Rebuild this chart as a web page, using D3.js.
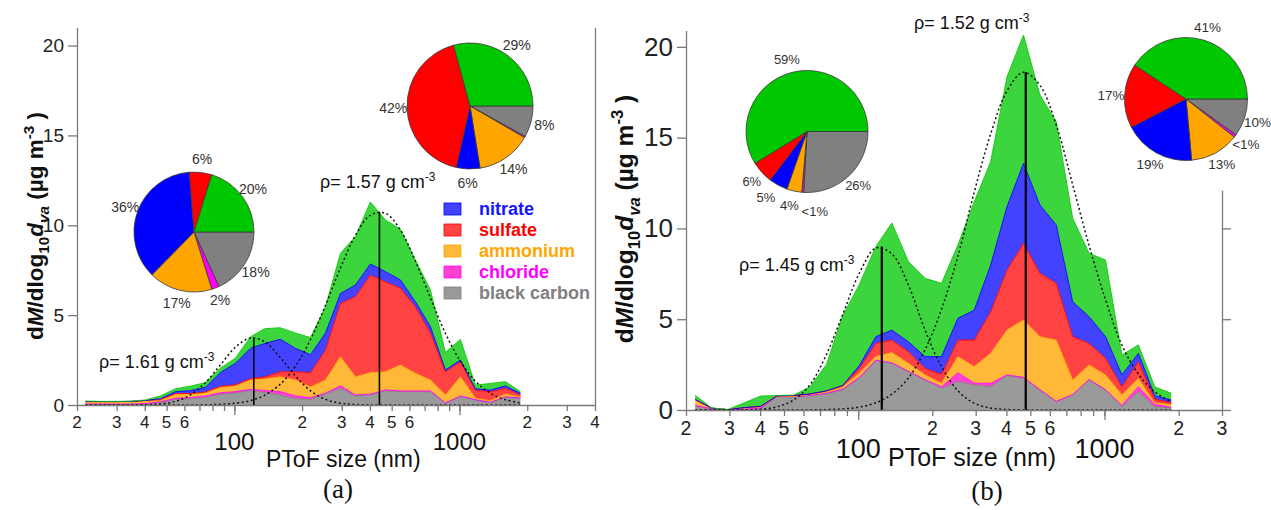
<!DOCTYPE html>
<html><head><meta charset="utf-8">
<script src="https://cdn.jsdelivr.net/npm/d3@7"></script>
<style>
body{margin:0;background:#fff;}
svg{display:block;font-family:"Liberation Sans",Arial,sans-serif;}
</style>
</head><body>
<svg id="c" width="1271" height="510"></svg>
<script>
// ---------------- DATA ----------------
const sizes = [21.8,25.4,29.6,34.5,40.2,46.9,54.7,63.7,74.3,86.6,101,118,137,160,187,218,254,296,345,402,469,547,637,743,866,1010,1177,1373,1600,1866];

// panel (a) species mass distributions
const aBC  = [0.03,0.03,0.03,0.03,0.05,0.12,0.30,0.35,0.42,0.60,0.66,0.80,0.70,0.55,0.35,0.32,0.61,0.93,0.50,0.56,0.80,0.74,0.74,0.74,0.09,0.46,0.28,0.13,0.43,0.37];
const aChl = [0.02,0.02,0.02,0.02,0.03,0.06,0.07,0.06,0.08,0.08,0.08,0.07,0.10,0.19,0.15,0.08,0.05,0.13,0.06,0.04,0.04,0.04,0.04,0.04,0.03,0.04,0.02,0.02,0.02,0.02];
const aAmm = [0.13,0.13,0.13,0.14,0.16,0.10,0.23,0.20,0.18,0.30,0.32,0.52,0.66,0.83,0.89,0.60,0.73,1.63,1.01,1.20,1.01,1.45,0.98,0.61,0.44,1.07,0.07,0.09,0.16,0.06];
const aSul = [0.01,0.01,0.01,0.01,0.01,0.02,0.03,0.03,0.04,0.06,0.06,0.08,0.11,0.28,0.46,0.80,1.67,2.97,4.46,5.43,5.01,4.26,3.71,2.61,1.29,0.84,0.46,0.50,0.32,0.11];
const aNit = [0,0,0,0,0,0.05,0.11,0.16,0.26,0.76,1.20,1.68,1.86,1.81,1.30,1.00,0.94,0.54,0.65,0.62,0.56,0.47,0.28,0.36,0.10,0.09,0.07,0.09,0.13,0.09];
const aOrg = [0.03,0.01,0.01,0.01,0.03,0.15,0.16,0.25,0.26,0.25,0.28,0.65,0.82,0.64,0.85,0.95,1.47,2.24,2.69,3.45,2.88,2.82,2.32,2.04,0.98,1.15,0.21,0.37,0.24,0.09];
const aMode1 = [0,0,0,0.003,0.014,0.059,0.2,0.56,1.24,2.22,3.21,3.73,3.5,2.64,1.61,0.79,0.31,0.1,0.026,0.005,0,0,0,0,0,0,0,0,0,0];
const aMode2 = [0,0,0,0,0,0,0.001,0.003,0.011,0.034,0.097,0.245,0.56,1.16,2.17,3.65,5.55,7.62,9.44,10.56,10.67,9.73,8.01,5.96,3.99,2.43,1.33,0.65,0.29,0.12];
const aModeDiam = [122, 441];
const aModePeak = [3.75, 10.76];
const aDensity = ["1.61", "1.57"];

// panel (b)
const bBC  = [0.22,0.05,0.01,0.03,0.06,0.76,0.72,0.78,0.90,1.10,1.74,2.70,2.57,2.11,1.65,1.19,1.56,1.38,1.28,1.89,1.74,1.10,0.46,0.83,1.65,1.10,0.18,1.01,0.18,0.12];
const bChl = [0.03,0.01,0,0.02,0.06,0,0.01,0.02,0.02,0.05,0.06,0.05,0.03,0.02,0.02,0.09,0.49,0.09,0.19,0.04,0.06,0.02,0.02,0.02,0.03,0.02,0.07,0.27,0.12,0.03];
const bAmm = [0.30,0.04,0.01,0.07,0.06,0.01,0.02,0.05,0.08,0.13,0.22,0.19,0.56,0.44,0.26,0.19,0.89,0.92,1.65,2.47,3.16,2.92,3.37,0.80,0.80,0.81,0.58,0.46,0.09,0.15];
const bSul = [0.02,0,0,0.01,0.02,0.01,0.05,0.03,0.05,0.05,0.27,0.73,0.69,0.64,0.36,0.49,0.91,1.46,2.29,3.30,4.22,3.49,3.13,2.39,1.19,0.92,0.45,0.92,0.21,0.10];
const bNit = [0.01,0,0,0,0,0,0,0,0,0.03,0.15,0.37,0.55,0.55,0.65,0.98,1.20,1.65,2.57,3.50,4.40,3.76,3.21,1.92,1.47,1.19,0.65,0.46,0.19,0.15];
const bOrg = [0.22,0.02,0.01,0.27,0.57,0.02,0.02,0.39,1.45,3.84,4.46,4.96,5.90,4.41,4.31,4.04,4.04,5.97,5.69,7.15,7.07,6.06,5.69,4.60,3.49,4.22,1.10,0.46,0.49,0.37];
const bMode1 = [0,0,0.002,0.01,0.044,0.177,0.55,1.39,3.05,5.27,7.52,8.92,8.6,6.87,4.39,2.38,1.06,0.37,0.11,0.027,0.005,0,0,0,0,0,0,0,0,0];
const bMode2 = [0,0,0,0,0,0,0.002,0.006,0.02,0.06,0.16,0.4,0.87,1.76,3.33,5.55,8.47,12.0,15.2,17.57,18.6,17.88,15.7,12.4,9.06,6.07,3.58,1.98,1.0,0.44];
const bModeDiam = [124.7, 479];
const bModePeak = [9.0, 18.6];
const bDensity = ["1.45", "1.52"];

// pie fractions, order: black carbon, chloride, ammonium, nitrate, sulfate, organics
const pieKeys = ["bc","chl","amm","nit","sul","org"];
const pieA1 = [18, 2, 17, 36, 6, 20];
const pieA1Labels = ["18%","2%","17%","36%","6%","20%"];
const pieA2 = [8, 0.3, 14, 6, 42, 29];
const pieA2Labels = ["8%","","14%","6%","42%","29%"];
const pieB1 = [26, 0.5, 4, 5, 6, 59];
const pieB1Labels = ["26%","<1%","4%","5%","6%","59%"];
const pieB2 = [10, 0.7, 13, 19, 17, 41];
const pieB2Labels = ["10%","<1%","13%","19%","17%","41%"];

const legendKeys = ["nit","sul","amm","chl","bc"];
const legendNames = ["nitrate","sulfate","ammonium","chloride","black carbon"];
const yTicks = [0,5,10,15,20];
const xTicksA = [20,30,40,50,60,70,80,90,100,200,300,400,500,600,700,800,900,1000,2000,3000,4000];
const xTicksB = [20,30,40,50,60,70,80,90,100,200,300,400,500,600,700,800,900,1000,2000,3000];
const xDigitLabels = {20:"2",30:"3",40:"4",50:"5",60:"6",200:"2",300:"3",400:"4",500:"5",600:"6",2000:"2",3000:"3",4000:"4"};
const xDecadeLabels = {100:"100",1000:"1000"};

// ---------------- STYLE ----------------
const stackKeys = ["bc","chl","amm","sul","nit","org"];
const fillCol = {org:"#3dd53d", nit:"#4242ff", sul:"#ff4242", amm:"#ffb838", chl:"#ff42d2", bc:"#9a9a9a"};
const lineCol = {org:"#10c810", nit:"#0000ff", sul:"#ff0000", amm:"#ffa500", chl:"#ff00ff", bc:"#808080"};
const pieCol  = {org:"#00c800", nit:"#0000ff", sul:"#ff0000", amm:"#ffa500", chl:"#ff00ff", bc:"#808080"};
const textCol = {nit:"#1515ff", sul:"#ff0000", amm:"#ffa500", chl:"#ff00ff", bc:"#808080"};
const axisCol = "#7a7a7a";

const svg = d3.select("#c");

function drawPanel(cfg) {
  const x = d3.scaleLog().domain(cfg.xDomain).range(cfg.xRange);
  const y = d3.scaleLinear().domain(cfg.yDomain).range(cfg.yRange);
  const g = svg.append("g");

  const rows = sizes.map((d, i) => ({d, bc:cfg.s.bc[i], chl:cfg.s.chl[i], amm:cfg.s.amm[i], sul:cfg.s.sul[i], nit:cfg.s.nit[i], org:cfg.s.org[i]}));
  const series = d3.stack().keys(stackKeys)(rows);
  const area = d3.area().x(d => x(d.data.d)).y0(d => y(d[0])).y1(d => y(d[1]));
  const topLine = d3.line().x(d => x(d.data.d)).y(d => y(d[1]));
  series.forEach(s => g.append("path").attr("d", area(s)).attr("fill", fillCol[s.key]));
  series.forEach(s => g.append("path").attr("d", topLine(s)).attr("fill","none")
      .attr("stroke", lineCol[s.key]).attr("stroke-width", 0.9));

  // fitted modes
  const modeLine = d3.line().x((v, i) => x(sizes[i])).y(v => y(v)).curve(d3.curveCatmullRom);
  cfg.modes.forEach(m => g.append("path").attr("d", modeLine(m)).attr("fill","none")
      .attr("stroke","#111").attr("stroke-width",1.5).attr("stroke-dasharray","2,2.6"));
  cfg.modeDiam.forEach((dm, i) => g.append("line")
      .attr("x1", x(dm)).attr("x2", x(dm)).attr("y1", y(0)).attr("y2", y(cfg.modePeak[i]))
      .attr("stroke","#000").attr("stroke-width", cfg.vlw));

  // axes
  const xa = g.append("g").attr("transform", `translate(0,${y(0)})`)
     .call(d3.axisBottom(x).tickValues(cfg.xTicks).tickFormat("").tickSize(6).tickSizeOuter(0));
  const xa2 = g.append("g").attr("transform", `translate(0,${y(0)})`)
     .call(d3.axisBottom(x).tickValues([100,1000]).tickFormat("").tickSize(10).tickSizeOuter(0));
  xa2.select(".domain").remove();
  const ya = g.append("g").attr("transform", `translate(${cfg.xRange[0]},0)`)
     .call(d3.axisLeft(y).tickValues(yTicks).tickSize(9).tickSizeOuter(0).tickPadding(4));
  ya.selectAll("text").attr("font-size", cfg.yFont).attr("fill","#222").attr("font-family","Liberation Sans, Arial, sans-serif");
  [xa, xa2, ya].forEach(a => { a.selectAll("path,line").attr("stroke", axisCol).attr("stroke-width",1.3); });

  // right axis
  const yR = y.copy().domain([0, cfg.rightTop]).range([y(0), y(cfg.rightTop)]);
  const ra = g.append("g").attr("transform", `translate(${cfg.xRange[1]},0)`)
     .call(d3.axisRight(yR).tickValues(cfg.rightTicks).tickFormat("").tickSize(9).tickSizeOuter(0));
  ra.selectAll("path,line").attr("stroke", axisCol).attr("stroke-width",1.3);

  // x tick labels
  cfg.xTicks.forEach(t => {
    if (xDigitLabels[t]) g.append("text").attr("x", x(t)).attr("y", cfg.row1).attr("text-anchor","middle")
        .attr("font-size", cfg.digitFont).attr("fill","#222").text(xDigitLabels[t]);
    if (xDecadeLabels[t]) g.append("text").attr("x", x(t)).attr("y", cfg.row2).attr("text-anchor","middle")
        .attr("font-size", cfg.decFont).attr("fill","#111").text(xDecadeLabels[t]);
  });
  g.append("text").attr("x", cfg.xLabelX).attr("y", cfg.xLabelY).attr("font-size", cfg.xLabelFont)
    .attr("fill","#111").text("PToF size (nm)");
  g.append("text").attr("x", cfg.tagX).attr("y", cfg.tagY).attr("text-anchor","middle")
    .attr("font-family","Liberation Serif, Times New Roman, serif").attr("font-size",27).attr("fill","#111").text(cfg.tag);

  // y label
  const yl = g.append("text").attr("transform", `translate(${cfg.yLabelX},${cfg.yLabelY}) rotate(-90)`)
    .attr("text-anchor","middle").attr("font-weight","bold").attr("font-size", cfg.yLabelFont).attr("fill","#111");
  const sub = cfg.yLabelFont * 0.68, sh = cfg.yLabelFont * 0.28, sp = cfg.yLabelFont * 0.42;
  yl.append("tspan").text("d");
  yl.append("tspan").attr("font-style","italic").text("M");
  yl.append("tspan").text("/dlog");
  yl.append("tspan").attr("font-size", sub).attr("dy", sh).text("10");
  yl.append("tspan").attr("font-style","italic").attr("dy", -sh).text("d");
  yl.append("tspan").attr("font-style","italic").attr("font-size", sub).attr("dy", sh).text("va");
  yl.append("tspan").attr("dy", -sh).text(" (µg m");
  yl.append("tspan").attr("font-size", sub).attr("dy", -sp).text("-3");
  yl.append("tspan").attr("dy", sp).text(" )");

  // density labels
  cfg.density.forEach((rho, i) => {
    const t = g.append("text").attr("x", cfg.rhoPos[i][0]).attr("y", cfg.rhoPos[i][1])
      .attr("font-size", 18).attr("fill","#111");
    t.append("tspan").text("ρ= " + rho + " g cm");
    t.append("tspan").attr("font-size", 12).attr("dy", -7).text("-3");
  });
}

drawPanel({
  xDomain:[20,4000], xRange:[77,595], yDomain:[0,21], yRange:[405,27.6],
  s:{bc:aBC, chl:aChl, amm:aAmm, sul:aSul, nit:aNit, org:aOrg},
  modes:[aMode1, aMode2], modeDiam:aModeDiam, modePeak:aModePeak, vlw:1.6,
  xTicks:xTicksA, yFont:19, rightTop:21, rightTicks:[],
  row1:428, row2:450, digitFont:17, decFont:24,
  xLabelX:266, xLabelY:467, xLabelFont:23, tag:"(a)", tagX:338, tagY:498,
  yLabelX:43, yLabelY:226, yLabelFont:22.5,
  density:aDensity, rhoPos:[[99,368],[320,188]]
});
drawPanel({
  xDomain:[20,3000], xRange:[686,1222], yDomain:[0,20.9], yRange:[410,30.5],
  s:{bc:bBC, chl:bChl, amm:bAmm, sul:bSul, nit:bNit, org:bOrg},
  modes:[bMode1, bMode2], modeDiam:bModeDiam, modePeak:bModePeak, vlw:2.2,
  xTicks:xTicksB, yFont:26, rightTop:12.1, rightTicks:[0,5,10],
  row1:435, row2:458, digitFont:19.5, decFont:27,
  xLabelX:888, xLabelY:466, xLabelFont:25, tag:"(b)", tagX:987, tagY:500,
  yLabelX:633, yLabelY:219, yLabelFont:24.5,
  density:bDensity, rhoPos:[[739,271],[914,29]]
});

// legend (panel a)
legendKeys.forEach((k, i) => {
  const yy = 209 + i * 21;
  svg.append("rect").attr("x",444).attr("y",yy-6).attr("width",17).attr("height",12)
    .attr("fill", fillCol[k]).attr("stroke", lineCol[k]).attr("stroke-width",0.8);
  svg.append("text").attr("x",479).attr("y",yy+6).attr("font-size",18).attr("font-weight","bold")
    .attr("fill", textCol[k]).text(legendNames[i]);
});

// pies
function drawPie(vals, labels, cx, cy, r, font, tweak) {
  const arcs = d3.pie().sort(null).value(v => v).startAngle(Math.PI/2).endAngle(Math.PI/2 + 2*Math.PI)(vals);
  const arc = d3.arc().innerRadius(0).outerRadius(r);
  const g = svg.append("g").attr("transform", `translate(${cx},${cy})`);
  g.selectAll("path").data(arcs).join("path").attr("d", arc)
    .attr("fill", (d, i) => pieCol[pieKeys[i]]).attr("stroke","#3a3a3a").attr("stroke-width",0.8);
  arcs.forEach((a, i) => {
    if (!labels[i]) return;
    const mid = (a.startAngle + a.endAngle) / 2, R = r * 1.22;
    const tw = (tweak && tweak[i]) || [0,0];
    g.append("text").attr("x", R*Math.sin(mid) + tw[0]).attr("y", -R*Math.cos(mid) + tw[1])
      .attr("text-anchor","middle").attr("dominant-baseline","central")
      .attr("font-size", font).attr("fill","#333").text(labels[i]);
  });
}
drawPie(pieA1, pieA1Labels, 194, 232, 60, 14);
drawPie(pieA2, pieA2Labels, 470, 106, 63, 14);
drawPie(pieB1, pieB1Labels, 807, 131.5, 61, 13, {1:[13,6], 2:[-2,1], 3:[-6,0]});
drawPie(pieB2, pieB2Labels, 1186, 99, 61.5, 13.5);
</script>
</body></html>
